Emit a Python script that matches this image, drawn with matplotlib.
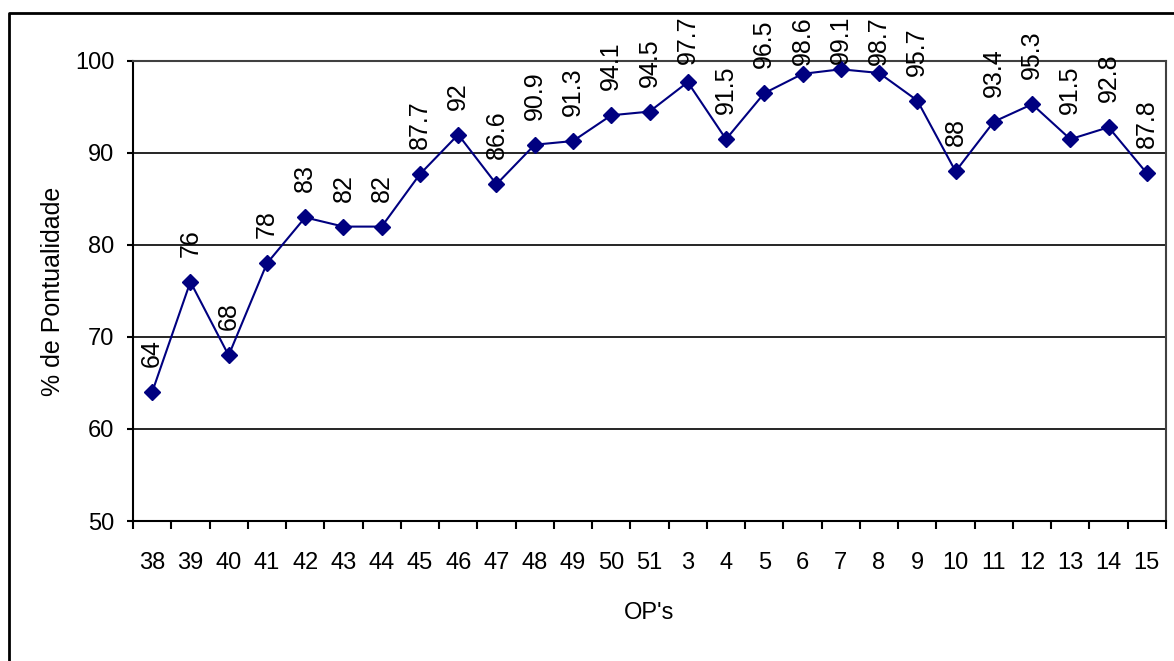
import matplotlib.pyplot as plt
from matplotlib.lines import Line2D

# -----------------------
# Data
# -----------------------
ops = ["38", "39", "40", "41", "42", "43", "44", "45", "46", "47", "48", "49",
       "50", "51", "3", "4", "5", "6", "7", "8", "9", "10", "11", "12", "13",
       "14", "15"]
pontualidade = [64, 76, 68, 78, 83, 82, 82, 87.7, 92, 86.6, 90.9, 91.3, 94.1,
                94.5, 97.7, 91.5, 96.5, 98.6, 99.1, 98.7, 95.7, 88, 93.4, 95.3,
                91.5, 92.8, 87.8]

plt.rcParams["font.family"] = ["Liberation Sans", "DejaVu Sans"]
FS_LABEL = 18
FS_TICK = 17

fig = plt.figure(figsize=(11.74, 6.61), dpi=100)
ax = fig.add_axes([133 / 1174, 1 - 521 / 661, (1166 - 133) / 1174, (521 - 61) / 661])

x = list(range(len(ops)))
ax.plot(x, pontualidade, color="#000080", lw=1.5, marker="D", ms=8.5,
        markerfacecolor="#000080", markeredgecolor="#000080", zorder=3,
        clip_on=False)

# value labels, rotated
labels = []
for xi, v in zip(x, pontualidade):
    t = ax.annotate(f"{v:g}", (xi, v), xytext=(0, 18), textcoords="offset points",
                    rotation=90, ha="center", va="bottom", fontsize=FS_LABEL,
                    annotation_clip=False)
    labels.append(t)

# axes
ax.set_ylim(50, 100)
ax.set_xlim(-0.5, len(ops) - 0.5)
ax.set_yticks(range(50, 101, 10))
ax.yaxis.grid(True, color="black", lw=1.2)
ax.set_axisbelow(True)

ax.set_xticks(x)
ax.set_xticklabels(ops)
ax.set_xticks([i - 0.5 for i in range(len(ops) + 1)], minor=True)
ax.tick_params(axis="x", which="major", length=0, pad=22, labelsize=FS_TICK)
ax.tick_params(axis="x", which="minor", length=6, width=1.5, direction="out")
ax.tick_params(axis="y", length=4.5, width=1.5, pad=9, labelsize=FS_TICK)

for side in ["left", "bottom"]:
    ax.spines[side].set_color("black")
    ax.spines[side].set_linewidth(1.5)
for side in ["right", "top"]:
    ax.spines[side].set_color("#404040")
    ax.spines[side].set_linewidth(1.5)

ax.set_ylabel("% de Pontualidade", fontsize=FS_LABEL)
ax.yaxis.set_label_coords(-(133 - 65) / 1033, 0.5)
ax.set_xlabel("OP's", fontsize=FS_TICK)
ax.xaxis.set_label_coords(0.5, -(602 - 521) / 460)

# outer chart frame (only top and left visible)
fig.add_artist(Line2D([9 / 1174, 9 / 1174, 1.0], [0.0, 1 - 13 / 661, 1 - 13 / 661],
                      color="black", lw=2, transform=fig.transFigure))

# keep labels inside the chart frame (push down those that would stick out)
fig.canvas.draw()
top_limit = fig.bbox.height - 16
for t in labels:
    bb = t.get_window_extent()
    if bb.y1 > top_limit:
        shift_pt = (bb.y1 - top_limit) * 72 / fig.dpi
        dx, dy = t.xyann
        t.xyann = (dx, dy - shift_pt)

fig.savefig("out.png", dpi=100)
